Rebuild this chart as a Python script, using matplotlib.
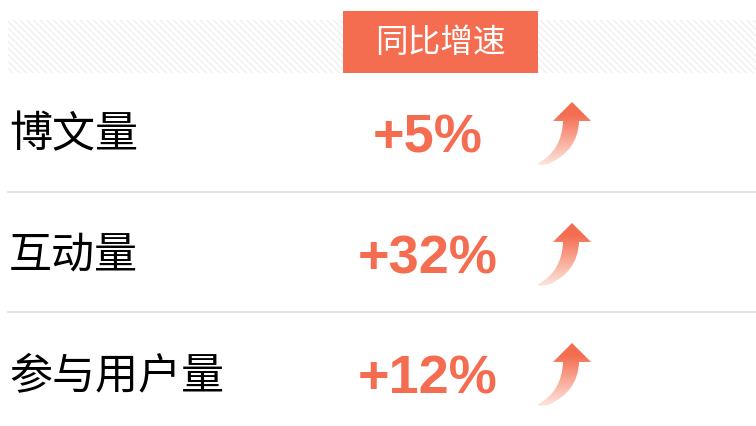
import matplotlib
matplotlib.use("Agg")
import matplotlib.pyplot as plt
import numpy as np
from matplotlib.patches import Rectangle, PathPatch
from matplotlib.path import Path
from matplotlib.colors import to_rgb

categories = ['博文量', '互动量', '参与用户量']
growth = [5, 32, 12]
header_text = '同比增速'

ORANGE = '#F46D50'
PALE = '#FCE8DF'

plt.rcParams['font.family'] = ['Noto Sans CJK SC', 'DejaVu Sans']
plt.rcParams['hatch.linewidth'] = 0.9

fig = plt.figure(figsize=(7.56, 4.27), dpi=100)
ax = fig.add_axes([0, 0, 1, 1])
ax.set_xlim(0, 756)
ax.set_ylim(427, 0)
ax.axis('off')

# header band with diagonal stripes
band = Rectangle((8, 21), 748, 53, facecolor='white', edgecolor='#eeeeee',
                 hatch='\\' * 5, linewidth=0)
ax.add_patch(band)
ax.add_patch(Rectangle((343, 12), 195, 62, facecolor=ORANGE, edgecolor='none'))
ax.text(440.5, 43, header_text, color='white', fontsize=23.5, fontweight='light',
        ha='center', va='center')

row_y = [136, 257, 377]
sep_y = [193, 313]
for y in sep_y:
    ax.plot([8, 756], [y, y], color='#e0e0e0', lw=1.2)

def arrow_path(dy):
    verts = [
        (572, 103 + dy),   # apex
        (591, 122 + dy),
        (579, 122 + dy),
        (578, 152 + dy), (548, 165 + dy),
        (540, 166 + dy),
        (537, 165 + dy),
        (562, 152 + dy), (563, 122 + dy),
        (553, 122 + dy),
        (572, 103 + dy),
    ]
    codes = [Path.MOVETO, Path.LINETO, Path.LINETO,
             Path.CURVE3, Path.CURVE3,
             Path.LINETO, Path.LINETO,
             Path.CURVE3, Path.CURVE3,
             Path.LINETO, Path.CLOSEPOLY]
    return Path(verts, codes)

c1 = np.array(to_rgb(ORANGE))
c2 = np.array(to_rgb(PALE))
n = 100
t = np.linspace(0, 1, n)
t = np.clip((t - 0.2) / 0.8, 0, 1)
grad = (c1[None, :] * (1 - t[:, None]) + c2[None, :] * t[:, None])
grad = np.repeat(grad[:, None, :], 2, axis=1)

for i, (cat, val) in enumerate(zip(categories, growth)):
    y = row_y[i]
    ax.text(9, y - 1, cat, fontsize=31, color='black', ha='left', va='center')
    ax.text(428, y + 3, f'+{val}%', fontsize=39, fontweight='bold', color=ORANGE,
            ha='center', va='center', family=['Liberation Sans', 'DejaVu Sans'])
    dy = y - 136
    p = PathPatch(arrow_path(dy), facecolor='none', edgecolor='none')
    ax.add_patch(p)
    im = ax.imshow(grad, extent=(535, 595, 167 + dy, 102 + dy), origin='upper',
                   aspect='auto', interpolation='bilinear', zorder=2)
    im.set_clip_path(p)

ax.set_xlim(0, 756)
ax.set_ylim(427, 0)
fig.savefig('out.png', dpi=100)
